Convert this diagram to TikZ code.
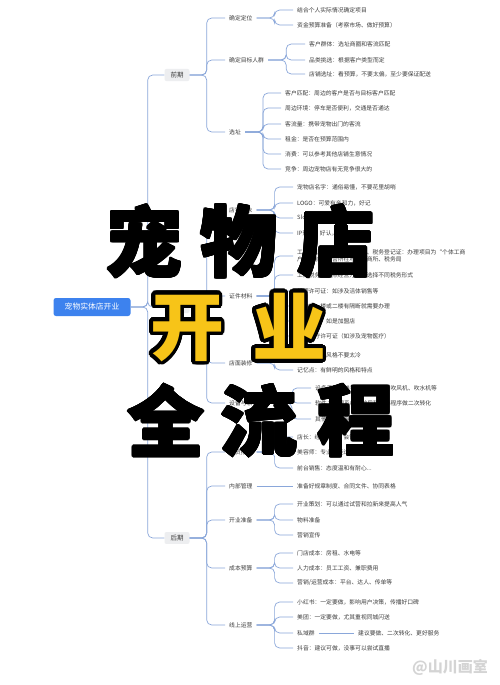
\documentclass[tikz,border=0pt]{standalone}
\usepackage{fontspec}
\usepackage{xcolor}
\usepackage[copies]{contour}
\usetikzlibrary{positioning,calc}
\newfontfamily\cjk{Noto Sans CJK SC}
\definecolor{linkblue}{HTML}{8AA7DA}
\definecolor{txtgray}{HTML}{3C3C3C}
\definecolor{rootblue}{HTML}{3D82EE}
\definecolor{stagegray}{HTML}{EDEEF0}
\definecolor{kaiyellow}{HTML}{F7C418}
\definecolor{markgray}{HTML}{D4D4D4}
\contourlength{3.6pt}
\contournumber{40}

\tikzset{
  every node/.style={font=\cjk\fontsize{5.8}{7}\selectfont, text=txtgray, inner xsep=4pt, inner ysep=1pt},
  item/.style={anchor=west},
  stage/.style={fill=stagegray, rounded corners=2pt, inner xsep=6pt, inner ysep=3pt, font=\cjk\fontsize{6.5}{7}\selectfont},
  rootbox/.style={fill=rootblue, text=white, rounded corners=2.5pt, minimum width=77pt, minimum height=18pt, font=\cjk\fontsize{7.8}{8}\selectfont},
  link/.style={draw=linkblue, line width=.7pt, rounded corners=5pt},
  bigchar/.style={font=\cjk\bfseries\fontsize{77}{77}\selectfont, text=black, inner sep=0pt},
  kaichar/.style={font=\cjk\bfseries\fontsize{74}{74}\selectfont, text=kaiyellow, inner sep=0pt}
}
\newcommand\heavy[1]{{\contourlength{1.1pt}\contournumber{16}\contour{black}{#1}}}

\begin{document}
\begin{tikzpicture}[x=1pt,y=-1pt]
\useasboundingbox[fill=white] (0,0) rectangle (500,685);

% root and stages
\node[rootbox] (root) at (92,307) {宠物实体店开业};
\node[stage] (qianqi) at (177,75) {前期};
\node[stage] (zhongqi) at (177,307) {中期};
\node[stage] (houqi) at (177,538) {后期};

\foreach \s in {qianqi,zhongqi,houqi}
  \draw[link] (root.east) -- ++(17,0) |- (\s.west);

% 前期
\node[item] (dingwei) at (225,18) {确定定位};
\node[item] (renqun) at (225,60) {确定目标人群};
\node[item] (xuanzhi) at (225,132) {选址};

\node[item] (dingwei1) at (293,10) {结合个人实际情况确定项目};
\node[item] (dingwei2) at (293,25) {资金预算准备（考察市场、做好预算）};

\node[item] (renqun1) at (305,44) {客户群体：选址商圈和客流匹配};
\node[item] (renqun2) at (305,60) {品类挑选：根据客户类型而定};
\node[item] (renqun3) at (305,74) {店铺选址：看预算，不要太偏，至少要保证配送};

\node[item] (xuanzhi1) at (281,93) {客户匹配：周边的客户是否与目标客户匹配};
\node[item] (xuanzhi2) at (281,108) {周边环境：停车是否便利，交通是否通达};
\node[item] (xuanzhi3) at (281,124) {客流量：携带宠物出门的客流};
\node[item] (xuanzhi4) at (281,139) {租金：是否在预算范围内};
\node[item] (xuanzhi5) at (281,154) {消费：可以参考其他店铺生意情况};
\node[item] (xuanzhi6) at (281,169) {竞争：周边宠物店有无竞争很大的};

\foreach \c in {dingwei,renqun,xuanzhi}
  \draw[link] (qianqi.east) -- ++(17,0) |- (\c.west);
\foreach \c in {dingwei1,dingwei2}
  \draw[link] (dingwei.east) -- ++(18,0) |- (\c.west);
\foreach \c in {renqun1,renqun2,renqun3}
  \draw[link] (renqun.east) -- ++(18,0) |- (\c.west);
\foreach \c in {xuanzhi1,xuanzhi2,xuanzhi3,xuanzhi4,xuanzhi5,xuanzhi6}
  \draw[link] (xuanzhi.east) -- ++(18,0) |- (\c.west);

% 中期
\node[item] (xingxiang) at (225,210) {店铺形象};
\node[item] (zhengjian) at (225,296) {证件材料};
\node[item] (zhuangxiu) at (225,363) {店面装修};
\node[item] (shebei) at (225,403) {设备与软件采购};

\node[item] (xingxiang1) at (293,187) {宠物店名字：通俗易懂，不要花里胡哨};
\node[item] (xingxiang2) at (293,203) {LOGO：可爱有亲和力，好记};
\node[item] (xingxiang3) at (293,218) {Slogan：朗朗上口，易传播};
\node[item] (xingxiang4) at (293,233) {IP形象：好认，方便传播};

\node[item, align=left] (zhengjian1) at (293,256) {工商营业执照、卫生许可证、税务登记证：办理项目为“个体工商\\户”，前往经营所在地各工商所、税务局};
\node[item] (zhengjian2) at (293,275) {工商税务：按照经营方式可选择不同税务形式};
\node[item] (zhengjian3) at (293,291) {经营许可证：如涉及活体销售等};
\node[item] (zhengjian4) at (293,306) {消防：一楼或二楼有隔断就需要办理};
\node[item] (zhengjian5) at (293,321) {商标授权：如是加盟店};
\node[item] (zhengjian6) at (293,336) {动物诊疗许可证（如涉及宠物医疗）};

\node[item] (zhuangxiu1) at (293,355) {风格：装修风格不要太冷};
\node[item] (zhuangxiu2) at (293,370) {记忆点：有鲜明的风格和特点};

\node[item] (shebei1) at (311,388) {设备采购：美容桌、烘干箱、吹风机、吹水机等};
\node[item] (shebei2) at (311,403) {软件：收银系统，前后私域小程序做二次转化};
\node[item] (shebei3) at (311,419) {其他：消毒用品等};

\foreach \c in {xingxiang,zhengjian,zhuangxiu,shebei}
  \draw[link] (zhongqi.east) -- ++(17,0) |- (\c.west);
\foreach \c in {xingxiang1,xingxiang2,xingxiang3,xingxiang4}
  \draw[link] (xingxiang.east) -- ++(18,0) |- (\c.west);
\foreach \c in {zhengjian1,zhengjian2,zhengjian3,zhengjian4,zhengjian5,zhengjian6}
  \draw[link] (zhengjian.east) -- ++(18,0) |- (\c.west);
\foreach \c in {zhuangxiu1,zhuangxiu2}
  \draw[link] (zhuangxiu.east) -- ++(18,0) |- (\c.west);
\foreach \c in {shebei1,shebei2,shebei3}
  \draw[link] (shebei.east) -- ++(18,0) |- (\c.west);

% 后期
\node[item] (renyuan) at (225,452) {人员招聘};
\node[item] (neibu) at (225,486) {内部管理};
\node[item] (kaiye) at (225,520) {开业准备};
\node[item] (chengben) at (225,568) {成本预算};
\node[item] (xianshang) at (225,625) {线上运营};

\node[item] (renyuan1) at (293,437) {店长：经验丰富，会管理};
\node[item] (renyuan2) at (293,452) {美容师：专业技能过硬};
\node[item] (renyuan3) at (293,468) {前台销售：态度温和有耐心...};

\node[item] (neibu1) at (293,486) {准备好规章制度、合同文件、协同表格};

\node[item] (kaiye1) at (293,504) {开业策划：可以通过试营和拉新来提高人气};
\node[item] (kaiye2) at (293,520) {物料准备};
\node[item] (kaiye3) at (293,535) {营销宣传};

\node[item] (chengben1) at (293,553) {门店成本：房租、水电等};
\node[item] (chengben2) at (293,568) {人力成本：员工工资、兼职费用};
\node[item] (chengben3) at (293,583) {营销/运营成本：平台、达人、传单等};

\node[item] (xianshang1) at (293,602) {小红书：一定要做，影响用户决策，传播好口碑};
\node[item] (xianshang2) at (293,617) {美团：一定要做，尤其重视同城闪送};
\node[item] (xianshang3) at (293,633) {私域群};
\node[item] (xianshang3a) at (354,633) {建议要做、二次转化、更好服务};
\node[item] (xianshang4) at (293,648) {抖音：建议可做，没事可以尝试直播};

\foreach \c in {renyuan,neibu,kaiye,chengben,xianshang}
  \draw[link] (houqi.east) -- ++(17,0) |- (\c.west);
\foreach \c in {renyuan1,renyuan2,renyuan3}
  \draw[link] (renyuan.east) -- ++(18,0) |- (\c.west);
\draw[link] (neibu.east) -- (neibu1.west);
\foreach \c in {kaiye1,kaiye2,kaiye3}
  \draw[link] (kaiye.east) -- ++(18,0) |- (\c.west);
\foreach \c in {chengben1,chengben2,chengben3}
  \draw[link] (chengben.east) -- ++(18,0) |- (\c.west);
\foreach \c in {xianshang1,xianshang2,xianshang3,xianshang4}
  \draw[link] (xianshang.east) -- ++(18,0) |- (\c.west);
\draw[link] (xianshang3.east) -- (xianshang3a.west);

% big title
\node[bigchar] (chong) at (144,242) {\heavy{宠}};
\node[bigchar] (wu) at (239,242) {\heavy{物}};
\node[bigchar] (dian) at (336,242) {\heavy{店}};
\node[kaichar] (kai) at (187,330) {\contour{black}{开}};
\node[kaichar] (ye) at (289,328) {\contour{black}{业}};
\node[bigchar] (quan) at (166,421) {\heavy{全}};
\node[bigchar] (liu) at (259,421) {\heavy{流}};
\node[bigchar] (cheng) at (356,421) {\heavy{程}};

% watermark
\node[font=\cjk\bfseries\fontsize{15}{15}\selectfont, text=markgray, anchor=east] (mark) at (492,667) {@山川画室};
\end{tikzpicture}
\end{document}
